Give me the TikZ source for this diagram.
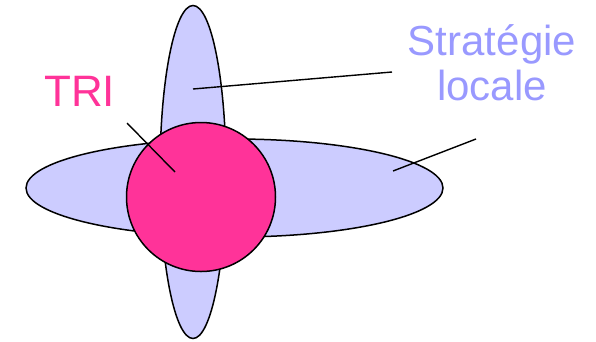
\documentclass[tikz,border=0pt]{standalone}
\usepackage{fontspec}
\setmainfont{Liberation Sans}
\usetikzlibrary{shapes.geometric}
\definecolor{lav}{HTML}{CCCCFF}
\definecolor{hotpink}{HTML}{FF3399}
\definecolor{labblue}{HTML}{9999FF}
\tikzset{
  blob/.style={ellipse, draw=black, line width=1.5pt, fill=lav, inner sep=0pt},
  core/.style={circle, draw=black, line width=1.5pt, fill=hotpink, inner sep=0pt},
  leader/.style={draw=black, line width=1.4pt},
  lab/.style={inner sep=0pt, font=\fontsize{42}{45}\selectfont}
}
\begin{document}
\begin{tikzpicture}[x=1pt,y=-1pt]
\useasboundingbox (0,0) rectangle (596,341);
\node[blob, minimum width=417pt, minimum height=98pt] (hz) at (234.5,188) {};
\node[blob, minimum width=66pt, minimum height=333pt] (vt) at (193,172) {};
\node[core, minimum size=149pt] (tri) at (201,197) {};
\node[lab, text=hotpink, anchor=base west, font=\fontsize{44}{48}\selectfont] (tl) at (44,106) {TRI};
\node[lab, text=labblue, anchor=base] (s1) at (492,55) {Stratégie};
\node[lab, text=labblue, anchor=base] (s2) at (492,100) {locale};
\coordinate (a1) at (193,89);
\coordinate (a2) at (392,72);
\coordinate (b1) at (476,139);
\coordinate (b2) at (393,171);
\coordinate (c1) at (127,123);
\coordinate (c2) at (175,172);
\draw[leader] (a1) -- (a2);
\draw[leader] (b1) -- (b2);
\draw[leader] (c1) -- (c2);
\end{tikzpicture}
\end{document}
